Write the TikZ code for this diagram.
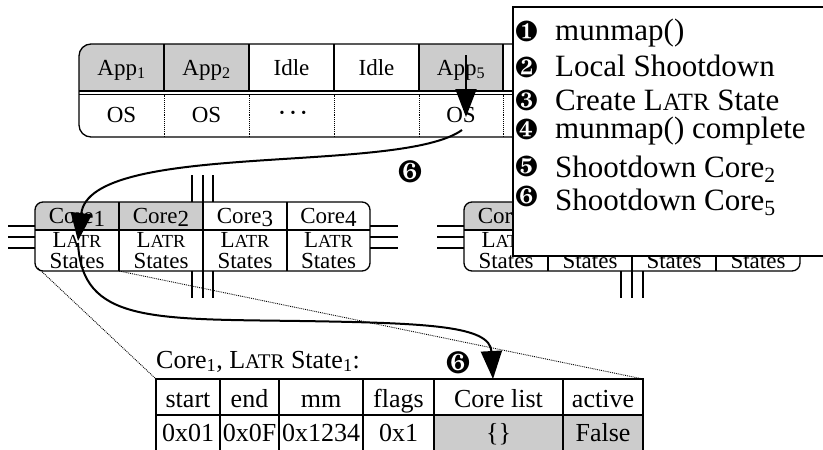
\documentclass[tikz,border=0pt]{standalone}
\usepackage{fontspec}
\setmainfont{Liberation Serif}
\usepackage{pifont}
\usetikzlibrary{arrows.meta}
\definecolor{cellgray}{gray}{0.8}
\newcommand{\fsz}[1]{\fontsize{#1pt}{#1pt}\selectfont}
\newcommand{\latr}{L\scalebox{0.8}{ATR}}
\newcommand{\corenum}[1]{Core\raisebox{-3pt}{#1}}
\newcommand{\idledots}{{\fsz{14}\textbullet\hspace{6pt}\textbullet\hspace{6pt}\textbullet}}
\begin{document}
\begin{tikzpicture}[x=1pt,y=-1pt,
  outline/.style={line width=1.3pt},
  cellline/.style={line width=1.1pt},
  dotsep/.style={line width=0.9pt,densely dotted},
  zoomline/.style={line width=0.9pt,densely dotted},
  bus/.style={line width=1.2pt},
  flow/.style={line width=2pt,-{Triangle[length=28pt,width=21pt]}},
  lbl/.style={inner sep=0pt,anchor=base},
  apptext/.style={lbl,font=\fsz{23}},
  coretext/.style={lbl,font=\fsz{23}},
  tabtext/.style={lbl,font=\fsz{26}},
  legtext/.style={lbl,anchor=base west,font=\fsz{31}},
  legding/.style={lbl,anchor=base west,font=\fsz{29}},
  stepmark/.style={inner sep=0pt,font=\fsz{31}}]
\useasboundingbox (0,0) rectangle (823,450);

% ---------- application / OS row ----------
\begin{scope}
  \clip[rounded corners=12pt] (79,44) rectangle (760,137);
  \fill[cellgray] (79,44) rectangle (249,91);
  \fill[cellgray] (419,44) rectangle (503,91);
\end{scope}
\draw[outline,rounded corners=12pt] (79,44) rectangle (760,137);
\draw[cellline] (79,91) -- (760,91) (79,94.5) -- (760,94.5);
\foreach \x in {164,249,334,419,503,588,672} {
  \draw[cellline] (\x,44) -- (\x,91);
  \draw[dotsep] (\x,94.5) -- (\x,137);
}
\node[apptext] (app1) at (121.5,75) {App\textsubscript{1}};
\node[apptext] (app2) at (206.5,75) {App\textsubscript{2}};
\node[apptext] (idle3) at (291.5,75) {Idle};
\node[apptext] (idle4) at (376.5,75) {Idle};
\node[apptext] (app5) at (461,75) {App\textsubscript{5}};
\node[apptext] (os1) at (121.5,122) {OS};
\node[apptext] (os2) at (206.5,122) {OS};
\node[apptext] (dots) at (293,117) {\idledots};
\node[apptext] (os5) at (461,122) {OS};

% ---------- zoom guides from Core1 to its state table ----------
\coordinate (c1bl) at (38,268);
\coordinate (c1br) at (119,271);
\coordinate (tabtl) at (156,379);
\coordinate (tabtr) at (643,379);
\draw[zoomline] (c1bl) -- (tabtl);
\draw[zoomline] (c1br) -- (tabtr);

% ---------- left core group ----------
\begin{scope}
  \clip[rounded corners=8pt] (35,202) rectangle (370,271);
  \fill[cellgray] (35,202) rectangle (203,230);
\end{scope}
\draw[outline,rounded corners=8pt] (35,202) rectangle (370,271);
\draw[cellline] (35,230) -- (370,230);
\foreach \x in {119,203,287} \draw[cellline] (\x,202) -- (\x,271);
\foreach \i/\x in {1/77,2/161,3/245,4/328.5} {
  \node[coretext] (core\i) at (\x,223) {\corenum{\i}};
  \node[coretext] (latr\i) at (\x,247) {\latr};
  \node[coretext] (states\i) at (\x,268) {States};
}
% interconnect stubs
\foreach \y in {226,237,248} {
  \draw[bus] (8,\y) -- (35,\y);
  \draw[bus] (370,\y) -- (398,\y);
  \draw[bus] (437,\y) -- (464,\y);
}
\foreach \x in {192,203,213} {
  \draw[bus] (\x,175) -- (\x,202);
  \draw[bus] (\x,271) -- (\x,298);
}
\foreach \x in {621,632,643} \draw[bus] (\x,271) -- (\x,298);

% ---------- right core group ----------
\begin{scope}
  \clip[rounded corners=8pt] (464,202) rectangle (800,271);
  \fill[cellgray] (464,202) rectangle (548,230);
\end{scope}
\draw[outline,rounded corners=8pt] (464,202) rectangle (800,271);
\draw[cellline] (464,230) -- (800,230);
\foreach \x in {548,632,716} \draw[cellline] (\x,202) -- (\x,271);
\node[coretext] (core5) at (506,223) {\corenum{5}};
\foreach \i/\x in {5/506,6/590,7/674,8/758} {
  \node[coretext] (latr\i) at (\x,247) {\latr};
  \node[coretext] (states\i) at (\x,268) {States};
}

% ---------- LATR state table ----------
\node[lbl,anchor=base west,font=\fsz{26}] (tabtitle) at (156,368)
  {Core\textsubscript{1}, \latr{} State\textsubscript{1}:};
\fill[cellgray] (434,415) rectangle (643,450);
\draw[outline] (156,452) -- (tabtl) -- (tabtr) -- (643,452);
\draw[line width=2.4pt] (156,415) -- (643,415);
\foreach \x in {220,279,363,434,563} \draw[cellline] (\x,379) -- (\x,452);
\node[tabtext] (hstart) at (188,407) {start};
\node[tabtext] (hend) at (249.5,407) {end};
\node[tabtext] (hmm) at (321,407) {mm};
\node[tabtext] (hflags) at (398.5,407) {flags};
\node[tabtext] (hcore) at (498.5,407) {Core list};
\node[tabtext] (hactive) at (603,407) {active};
\node[tabtext] (vstart) at (188,441) {0x01};
\node[tabtext] (vend) at (249.5,441) {0x0F};
\node[tabtext] (vmm) at (321,441) {0x1234};
\node[tabtext] (vflags) at (398.5,441) {0x1};
\node[tabtext] (vcore) at (498.5,441) {\{\}};
\node[tabtext] (vactive) at (603,441) {False};

% ---------- shootdown flow ----------
\coordinate (a1s) at (466,55);
\coordinate (a1e) at (466,117);
\draw[flow] (a1s) -- (a1e);
\coordinate (a2s) at (462,130);
\coordinate (a2e) at (78,241);
\draw[flow] (a2s) .. controls (400,175) and (90,140) .. (a2e);
\coordinate (a3s) at (78,243);
\coordinate (a3m) at (300,321);
\coordinate (a3e) at (493,379);
\draw[flow] (a3s) .. controls (82,322) and (150,319) .. (a3m)
  .. controls (430,323) and (490,326) .. (a3e);
\node[stepmark] (six1) at (410,172) {\ding{187}};
\node[stepmark] (six2) at (458,363) {\ding{187}};

% ---------- legend ----------
\fill[white] (513,7) rectangle (823,256);
\draw[outline] (823,7) -- (513,7) -- (513,256) -- (823,256);
\node[legding] (d1) at (515,41) {\ding{182}};
\node[legtext] (t1) at (555,40) {munmap()};
\node[legding] (d2) at (515,77) {\ding{183}};
\node[legtext] (t2) at (555,76) {Local Shootdown};
\node[legding] (d3) at (515,110) {\ding{184}};
\node[legtext] (t3) at (555,110) {Create \latr{} State};
\node[legding] (d4) at (515,139) {\ding{185}};
\node[legtext] (t4) at (555,138) {munmap() complete};
\node[legding] (d5) at (515,176) {\ding{186}};
\node[legtext] (t5) at (555,177) {Shootdown Core\textsubscript{2}};
\node[legding] (d6) at (515,206) {\ding{187}};
\node[legtext] (t6) at (555,210) {Shootdown Core\textsubscript{5}};
\end{tikzpicture}
\end{document}
